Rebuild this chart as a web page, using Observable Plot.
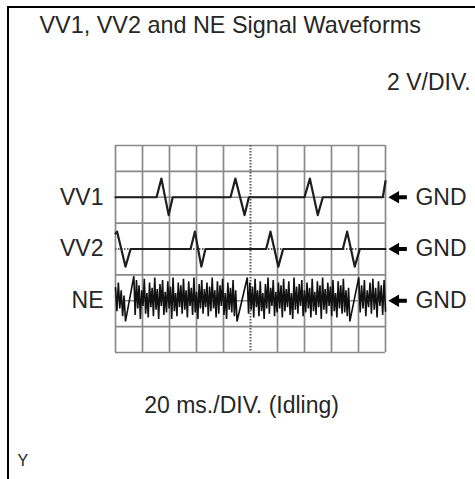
<!DOCTYPE html>
<html>
<head>
<meta charset="utf-8">
<script src="https://cdn.jsdelivr.net/npm/d3@7"></script>
<script src="https://cdn.jsdelivr.net/npm/@observablehq/plot@0.6"></script>
<style>
  html, body { margin: 0; padding: 0; background: #fff; }
  #wrap { position: relative; width: 475px; height: 479px; overflow: hidden; }
  #border { position: absolute; left: 7px; top: 6px; width: 480px; height: 490px;
            border-left: 2px solid #000; border-top: 2px solid #000; pointer-events: none; }
</style>
</head>
<body>
<div id="wrap"><div id="border"></div></div>
<script>
// ---- texts ----
const titleText = "VV1, VV2 and NE Signal Waveforms";
const voltsText = "2 V/DIV.";
const timeText = "20 ms./DIV. (Idling)";
const cornerText = "Y";
const channels = ["VV1", "VV2", "NE"];
const gndLabel = "GND";
// GND reference level of each channel, in vertical divisions
const gndLevel = [6, 4, 2];

// ---- grid divisions ----
const xDivs = [0, 1, 2, 3, 4, 5, 6, 7, 8, 9, 10];
const yDivs = [0, 1, 2, 3, 4, 5, 6, 7, 8];

// ---- VV1 waveform (time in divisions, volts in divisions) ----
const vv1T = [0, 1.52, 1.70, 1.97, 2.12, 4.26, 4.44, 4.78, 4.94, 7.00, 7.20, 7.49, 7.68, 9.90, 10];
const vv1V = [0, 0, 0.72, -0.69, 0, 0, 0.72, -0.69, 0, 0, 0.72, -0.69, 0, 0, 0.62];

// ---- VV2 waveform ----
const vv2T = [0, 0.06, 0.37, 0.56, 2.78, 2.94, 3.18, 3.33, 5.58, 5.74, 6.03, 6.21, 8.42, 8.58, 8.86, 9.05, 10];
const vv2V = [0.6, 0.67, -0.68, 0, 0, 0.67, -0.68, 0, 0, 0.67, -0.68, 0, 0, 0.67, -0.68, 0, 0];

// ---- NE waveform: tooth sections (start/end in divisions) and sampled values ----
const neStart = [0, 0.68, 4.88, 9.01];
const neEnd = [0.37, 4.50, 8.68, 10];
const neVals = [
  [0.5, -0.4, 0.7, -0.3, 0.4, -0.6, 0.2, -0.8],
  [0.95,-0.55,0.8,-0.3,0.6,-0.7,0.4,-0.2,0.85,-0.5,0.3,-0.65,0.7,-0.25,0.5,-0.6,0.9,-0.35,0.45,-0.7,
   0.65,-0.2,0.8,-0.55,0.35,-0.45,0.75,-0.3,0.55,-0.7,0.9,-0.4,0.3,-0.6,0.7,-0.25,0.6,-0.5,0.85,-0.35,
   0.4,-0.65,0.75,-0.2,0.5,-0.55,0.9,-0.45,0.35,-0.7,0.65,-0.3,0.8,-0.5,0.45,-0.25,0.7,-0.6,0.55,-0.4,
   0.9,-0.3,0.4,-0.65,0.75,-0.5,0.6,-0.2,0.85,-0.55,0.3,-0.7,0.7,-0.35,0.5,-0.45,0.8,-0.6,0.4,-0.8],
  [0.9,-0.5,0.7,-0.35,0.55,-0.65,0.85,-0.25,0.4,-0.6,0.75,-0.4,0.3,-0.7,0.65,-0.3,0.9,-0.5,0.5,-0.2,
   0.8,-0.6,0.35,-0.45,0.7,-0.3,0.6,-0.65,0.85,-0.4,0.45,-0.25,0.75,-0.55,0.3,-0.7,0.9,-0.35,0.55,-0.5,
   0.65,-0.2,0.8,-0.6,0.4,-0.45,0.7,-0.3,0.5,-0.65,0.85,-0.4,0.35,-0.55,0.75,-0.25,0.6,-0.7,0.9,-0.35,
   0.45,-0.5,0.7,-0.2,0.55,-0.6,0.8,-0.4,0.3,-0.65,0.75,-0.3,0.6,-0.5,0.85,-0.45,0.4,-0.6,0.5,-0.8],
  [0.9,-0.45,0.6,-0.3,0.8,-0.6,0.4,-0.25,0.7,-0.5,0.85,-0.35,0.5,-0.65,0.75,-0.2,0.6,-0.55,0.8,-0.4]
];

// ---- build tables ----
const vv1 = vv1T.map((t, i) => ({t, v: gndLevel[0] + vv1V[i]}));
const vv2 = vv2T.map((t, i) => ({t, v: gndLevel[1] + vv2V[i]}));
const ne = [];
neVals.forEach((vals, s) => {
  const n = vals.length;
  vals.forEach((v, i) => ne.push({t: neStart[s] + (neEnd[s] - neStart[s]) * i / (n - 1), v: gndLevel[2] + v}));
});
const chan = channels.map((name, i) => ({name, level: gndLevel[i]}));

const ink = "#1e1e1e";
const textInk = "#262626";
const font = "'Liberation Sans', Arial, Helvetica, sans-serif";

const chart = Plot.plot({
  width: 475,
  height: 479,
  marginLeft: 115,
  marginRight: 90,
  marginTop: 145,
  marginBottom: 127,
  x: {domain: [0, 10], axis: null},
  y: {domain: [0, 8], axis: null},
  style: {fontFamily: font, background: "transparent", overflow: "visible"},
  marks: [
    // grid
    Plot.ruleX(xDivs.filter(d => d !== 5), {x: d => d, stroke: "#8a8a8a", strokeWidth: 1.7}),
    Plot.ruleY(yDivs.filter(d => d !== 4), {y: d => d, stroke: "#8a8a8a", strokeWidth: 1.7}),
    Plot.ruleX([5], {x: d => d, stroke: "#5a5a5a", strokeWidth: 2, strokeDasharray: "1.5,1.5"}),
    Plot.ruleY([4], {y: d => d, stroke: "#5a5a5a", strokeWidth: 2, strokeDasharray: "1.5,1.5"}),
    // traces
    Plot.line(ne, {x: "t", y: "v", stroke: "#111", strokeWidth: 1.6, strokeLinejoin: "miter"}),
    Plot.line(vv1, {x: "t", y: "v", stroke: ink, strokeWidth: 2.2}),
    Plot.line(vv2, {x: "t", y: "v", stroke: ink, strokeWidth: 2.2}),
    // channel labels
    Plot.text(chan, {x: 0, y: "level", text: "name", dx: -12, textAnchor: "end", lineAnchor: "middle",
                     fontSize: 23, fill: textInk}),
    // GND arrows
    Plot.ruleY(chan, {y: "level", x1: 10.37, x2: 10.81, stroke: "#000", strokeWidth: 4}),
    Plot.dot(chan, {x: 10.37, y: "level", symbol: "triangle", r: 4.6, rotate: -90, fill: "#000", stroke: null}),
    Plot.text(chan, {x: 11.11, y: "level", text: () => gndLabel, textAnchor: "start", lineAnchor: "middle",
                     fontSize: 23, fill: textInk}),
    // titles
    Plot.text([titleText], {x: -2.815, y: 12.33, text: d => d, textAnchor: "start", lineAnchor: "bottom",
                            fontSize: 23.4, fill: textInk}),
    Plot.text([voltsText], {x: 13.15, y: 10.16, text: d => d, textAnchor: "end", lineAnchor: "bottom",
                            fontSize: 23, fill: textInk}),
    Plot.text([timeText], {x: 4.67, y: -2.32, text: d => d, textAnchor: "middle", lineAnchor: "bottom",
                           fontSize: 23, fill: textInk}),
    Plot.text([cornerText], {x: -3.63, y: -4.37, text: d => d, textAnchor: "start", lineAnchor: "bottom",
                             fontSize: 16, fill: textInk})
  ]
});
chart.style.position = "absolute";
chart.style.left = "0px";
chart.style.top = "0px";
document.getElementById("wrap").prepend(chart);
</script>
</body>
</html>
